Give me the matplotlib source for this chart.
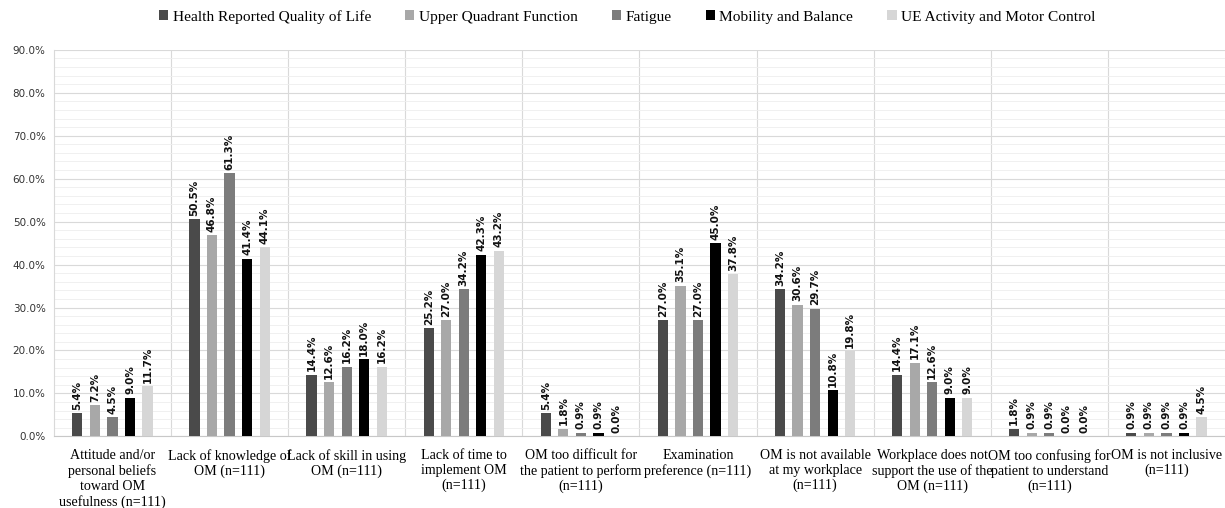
import matplotlib.pyplot as plt
from matplotlib.ticker import MultipleLocator, FuncFormatter
import numpy as np

categories = [
    "Attitude and/or\npersonal beliefs\ntoward OM\nusefulness (n=111)",
    "Lack of knowledge of\nOM (n=111)",
    "Lack of skill in using\nOM (n=111)",
    "Lack of time to\nimplement OM\n(n=111)",
    "OM too difficult for\nthe patient to perform\n(n=111)",
    "Examination\npreference (n=111)",
    "OM is not available\nat my workplace\n(n=111)",
    "Workplace does not\nsupport the use of the\nOM (n=111)",
    "OM too confusing for\npatient to understand\n(n=111)",
    "OM is not inclusive\n(n=111)",
]

series_names = [
    "Health Reported Quality of Life",
    "Upper Quadrant Function",
    "Fatigue",
    "Mobility and Balance",
    "UE Activity and Motor Control",
]

health_qol = [5.4, 50.5, 14.4, 25.2, 5.4, 27.0, 34.2, 14.4, 1.8, 0.9]
upper_quadrant = [7.2, 46.8, 12.6, 27.0, 1.8, 35.1, 30.6, 17.1, 0.9, 0.9]
fatigue = [4.5, 61.3, 16.2, 34.2, 0.9, 27.0, 29.7, 12.6, 0.9, 0.9]
mobility = [9.0, 41.4, 18.0, 42.3, 0.9, 45.0, 10.8, 9.0, 0.0, 0.9]
ue_activity = [11.7, 44.1, 16.2, 43.2, 0.0, 37.8, 19.8, 9.0, 0.0, 4.5]

colors = ["#4a4a4a", "#a8a8a8", "#7c7c7c", "#000000", "#d6d6d6"]

fig = plt.figure(figsize=(12.25, 5.08), dpi=100)
ax = fig.add_axes([0.044, 0.141, 0.956, 0.761])

x = np.arange(len(categories))
step = 0.15
width = 0.087
all_series = [health_qol, upper_quadrant, fatigue, mobility, ue_activity]
for i, (vals, name, c) in enumerate(zip(all_series, series_names, colors)):
    pos = x + (i - 2) * step
    ax.bar(pos, vals, width, color=c, label=name, zorder=3)
    for px, v in zip(pos, vals):
        ax.text(px, v + 0.8, f"{v:.1f}%", rotation=90, ha="center", va="bottom",
                fontsize=7.5, fontweight="bold", family="DejaVu Sans",
                color="#111111", zorder=4)

ax.set_xlim(-0.5, len(categories) - 0.5)
ax.set_ylim(0, 90)
ax.yaxis.set_major_locator(MultipleLocator(10))
ax.yaxis.set_minor_locator(MultipleLocator(2))
ax.yaxis.set_major_formatter(FuncFormatter(lambda v, p: f"{v:.1f}%"))
ax.grid(axis="y", which="major", color="#d9d9d9", linewidth=0.8, zorder=0)
ax.grid(axis="y", which="minor", color="#eeeeee", linewidth=0.6, zorder=0)

# separators between category groups
for b in np.arange(0.5, len(categories) - 0.5, 1):
    ax.axvline(b, color="#d9d9d9", linewidth=0.8, zorder=1)

ax.set_xticks(x)
ax.set_xticklabels(categories, family="Liberation Serif", fontsize=10.1,
                   linespacing=1.2, va="top")
ax.tick_params(axis="x", length=0, pad=9)
ax.tick_params(axis="y", which="both", length=0, labelsize=7.5, colors="#333333", pad=6)

for s in ["top", "right"]:
    ax.spines[s].set_visible(False)
ax.spines["left"].set_color("#d9d9d9")
ax.spines["bottom"].set_color("#c8c8c8")

leg = fig.legend(loc="upper center", bbox_to_anchor=(0.512, 1.008), ncol=5,
                 frameon=False, prop={"family": "Liberation Serif", "size": 11.1},
                 handlelength=0.6, handleheight=0.6, handletextpad=0.3,
                 columnspacing=2.2)

fig.savefig("out.png", dpi=100)
